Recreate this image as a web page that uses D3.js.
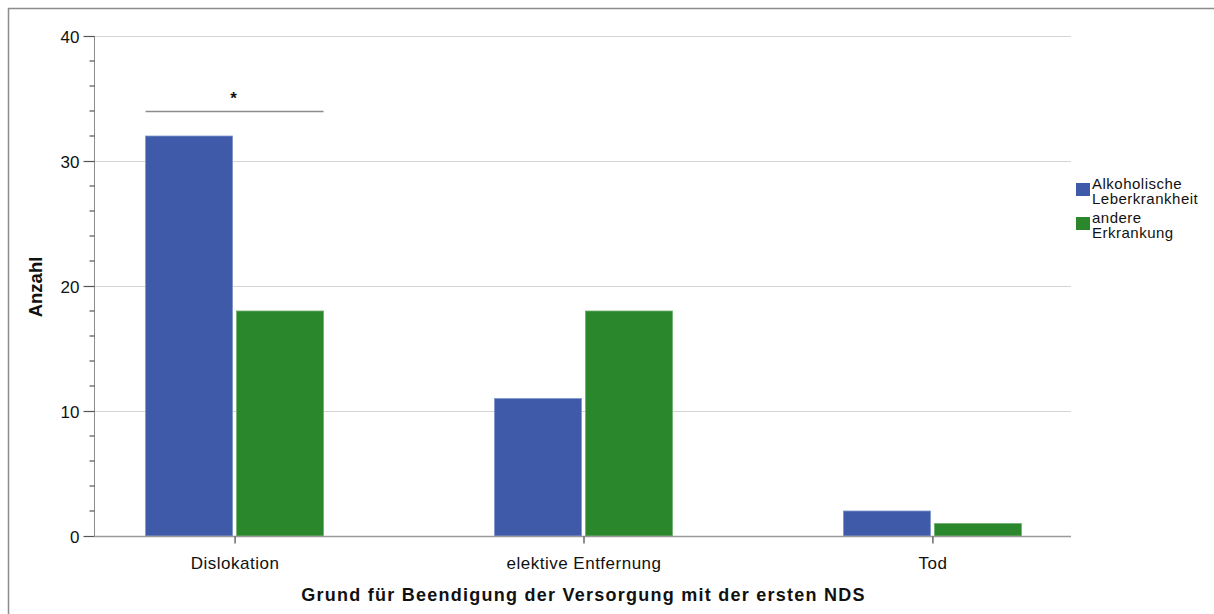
<!DOCTYPE html>
<html>
<head>
<meta charset="utf-8">
<script src="https://cdn.jsdelivr.net/npm/d3@7"></script>
<style>
  html, body { margin: 0; padding: 0; background: #fff; }
  svg { display: block; font-family: "Liberation Sans", Arial, sans-serif; }
</style>
</head>
<body>
<svg id="chart" width="1214" height="614"></svg>
<script>
// Reasons for ending the first NDS treatment, counted per underlying disease
const categories = ["Dislokation", "elektive Entfernung", "Tod"];
const seriesNames = ["Alkoholische Leberkrankheit", "andere Erkrankung"];
const alkoholisch = [32, 11, 2];
const andere = [18, 18, 1];
const yTicks = [0, 10, 20, 30, 40];
const legendLines = [["Alkoholische", "Leberkrankheit"], ["andere", "Erkrankung"]];
const colors = ["#3E5AA8", "#2A872B"];

(function () {
const svg = d3.select("#chart");
const W = 1214, H = 614;
const FONT = "Liberation Sans, Arial, sans-serif";

// outer frame (top and left edges)
svg.append("path")
  .attr("d", `M8.5,${H} V8.5 H${W}`)
  .attr("fill", "none").attr("stroke", "#8c8c8c").attr("stroke-width", 1.5);

const plotL = 94, plotR = 1071, plotT = 36, plotB = 536;

const x = d3.scalePoint().domain(categories).range([plotL + 1, plotR + 1]).padding(0.4);
const y = d3.scaleLinear().domain([0, 40]).range([plotB, plotT]);

// horizontal grid lines
svg.append("g").selectAll("line").data(yTicks.filter(d => d > 0)).join("line")
  .attr("x1", plotL).attr("x2", plotR)
  .attr("y1", d => Math.round(y(d)) + 0.5).attr("y2", d => Math.round(y(d)) + 0.5)
  .attr("stroke", "#d4d4d4").attr("stroke-width", 1);

// bars
const barW = 87, gap = 4;
const rows = categories.map((c, i) => ({ c, vals: [alkoholisch[i], andere[i]] }));
const groups = svg.append("g").selectAll("g").data(rows).join("g");
groups.selectAll("rect").data(d => d.vals.map((v, k) => ({ c: d.c, v, k }))).join("rect")
  .attr("x", d => d.k === 0 ? x(d.c) - gap / 2 - barW : x(d.c) + gap / 2)
  .attr("y", d => y(d.v))
  .attr("width", barW)
  .attr("height", d => y(0) - y(d.v))
  .attr("fill", d => colors[d.k])
  .attr("stroke", d => d.k === 0 ? "#7f94cc" : "#6fb06f")
  .attr("stroke-width", 0.8);

// y axis with major and minor ticks
const yAxis = d3.axisLeft(y).tickValues(yTicks).tickSize(11).tickPadding(4).tickFormat(d3.format("d"));
const gy = svg.append("g").attr("transform", `translate(${plotL + 0.5},0)`).call(yAxis);
gy.select(".domain").attr("stroke", "#8c8c8c").attr("d", `M0,${plotT}V${plotB}`);
gy.selectAll(".tick line").attr("stroke", "#555").attr("stroke-width", 1.2);
gy.selectAll(".tick text").attr("font-size", 17).attr("fill", "#111")
  .attr("font-family", FONT).attr("dy", "0.36em");
const minor = d3.range(0, 41, 2).filter(d => d % 10 !== 0);
gy.append("g").selectAll("line").data(minor).join("line")
  .attr("x1", -5).attr("x2", 0)
  .attr("y1", d => y(d)).attr("y2", d => y(d))
  .attr("stroke", "#555").attr("stroke-width", 1.2);

// x axis baseline with category ticks
const xAxis = d3.axisBottom(x).tickSize(7);
const gx = svg.append("g").attr("transform", `translate(0,${plotB + 0.5})`).call(xAxis);
gx.select(".domain").attr("stroke", "#9a9a9a").attr("stroke-width", 1.5).attr("d", `M${plotL},0H${plotR}`);
gx.selectAll(".tick line").attr("stroke", "#444").attr("stroke-width", 1.2);
gx.selectAll(".tick text").attr("font-size", 17).attr("fill", "#111")
  .attr("font-family", FONT).attr("y", 32.5).attr("dy", 0)
  .attr("letter-spacing", 0.5);

// axis titles
svg.append("text")
  .attr("transform", `translate(42,${(plotT + plotB) / 2 + 1}) rotate(-90)`)
  .attr("text-anchor", "middle")
  .attr("font-size", 18.5).attr("font-weight", "bold").attr("fill", "#111")
  .text("Anzahl");
svg.append("text")
  .attr("x", x(categories[1])).attr("y", 601)
  .attr("text-anchor", "middle")
  .attr("font-size", 18).attr("font-weight", "bold").attr("fill", "#111")
  .attr("letter-spacing", 1.25)
  .text("Grund für Beendigung der Versorgung mit der ersten NDS");

// significance bracket over Dislokation
const c0 = categories[0];
svg.append("line")
  .attr("x1", x(c0) - gap / 2 - barW).attr("x2", x(c0) + gap / 2 + barW)
  .attr("y1", Math.round(y(34)) + 0.5).attr("y2", Math.round(y(34)) + 0.5)
  .attr("stroke", "#8c8c8c").attr("stroke-width", 1.5);
svg.append("text")
  .attr("x", x(c0) - 1).attr("y", 104)
  .attr("text-anchor", "middle")
  .attr("font-size", 17).attr("font-weight", "bold").attr("fill", "#111")
  .text("*");

// legend
const lg = svg.append("g").attr("transform", "translate(1076,0)");
seriesNames.forEach((name, i) => {
  const y0 = 183 + i * 34;
  lg.append("rect").attr("x", 0).attr("y", y0).attr("width", 14).attr("height", 13)
    .attr("fill", colors[i]);
  legendLines[i].forEach((t, j) => {
    lg.append("text").attr("x", 16).attr("y", y0 + 6 + j * 15)
      .attr("font-size", 15).attr("letter-spacing", 0.5).attr("fill", "#111").text(t);
  });
});
})();
</script>
</body>
</html>
